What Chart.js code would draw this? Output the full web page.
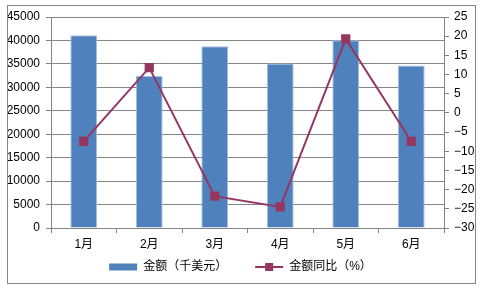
<!DOCTYPE html>
<html>
<head>
<meta charset="utf-8">
<script src="https://cdn.jsdelivr.net/npm/chart.js@4"></script>
<style>
    html, body { margin: 0; padding: 0; background: #fff; }
    #wrap { width: 481px; height: 288px; }
</style>
</head>
<body>
<div id="wrap"><canvas id="grafico"></canvas></div>
<script>
// dados
const meses = ["1月", "2月", "3月", "4月", "5月", "6月"];
const valores = [41100, 32400, 38750, 35100, 40050, 34650];
const variacao = [-7.4, 11.8, -21.7, -24.5, 19.3, -7.4];
const nomeBarra = "金额（千美元）";
const nomeLinha = "金额同比（%）";

const corBarra = "#4f81bd";
const corLinha = "#953660";
const cinza = "#868686";
const fonte = "'Liberation Sans', 'Noto Sans CJK SC', sans-serif";

Chart.defaults.font.family = fonte;
Chart.defaults.font.size = 12;
Chart.defaults.color = "#000";

// moldura em volta do gráfico e legenda da linha com marcador
const moldura = {
    id: "moldura",
    beforeDraw(chart) {
        const c = chart.ctx;
        c.save();
        c.fillStyle = "#fff";
        c.fillRect(0, 0, chart.width, chart.height);
        c.restore();
    },
    afterDraw(chart) {
        const c = chart.ctx;
        c.save();
        c.strokeStyle = cinza;
        c.lineWidth = 1;
        c.strokeRect(7.5, 5.5, 468, 278);

        const box = chart.legend.legendHitBoxes[1];
        if (box) {
            const w = chart.legend.options.labels.boxWidth;
            const y = Math.round(box.top + box.height / 2);
            c.strokeStyle = corLinha;
            c.lineWidth = 2;
            c.beginPath();
            c.moveTo(box.left, y);
            c.lineTo(box.left + w, y);
            c.stroke();
            c.fillStyle = corLinha;
            c.fillRect(box.left + w / 2 - 4, y - 4, 8, 8);
        }
        c.restore();
    }
};

new Chart(document.getElementById("grafico"), {
    type: "bar",
    data: {
        labels: meses,
        datasets: [{
            type: "bar",
            label: nomeBarra,
            data: valores,
            backgroundColor: corBarra,
            borderColor: "#a7bfdf",
            borderWidth: 1,
            barPercentage: 0.82,
            categoryPercentage: 0.5,
            yAxisID: "y",
            order: 1
        }, {
            type: "line",
            label: nomeLinha,
            data: variacao,
            borderColor: corLinha,
            backgroundColor: corLinha,
            borderWidth: 2,
            pointStyle: "rect",
            pointRadius: 6.5,
            pointBorderWidth: 0,
            tension: 0,
            yAxisID: "y1",
            order: 0
        }]
    },
    options: {
        responsive: true,
        maintainAspectRatio: false,
        animation: false,
        events: [],
        layout: { padding: { top: 17, bottom: 5, left: 0, right: 0 } },
        scales: {
            x: {
                offset: true,
                grid: { offset: true, drawOnChartArea: false, drawTicks: true, tickLength: 5, color: cinza },
                border: { color: cinza },
                ticks: { padding: 4 },
                afterFit: s => { s.height = 23; }
            },
            y: {
                position: "left",
                min: 0,
                max: 45000,
                ticks: { stepSize: 5000, padding: 6, callback: v => String(v) },
                grid: { color: cinza, tickLength: 5 },
                border: { color: cinza },
                afterFit: s => { s.width = 51; }
            },
            y1: {
                position: "right",
                min: -30,
                max: 25,
                ticks: {
                    stepSize: 5,
                    padding: 5,
                    callback: v => String(v).replace("-", "\u2212")
                },
                grid: { drawOnChartArea: false, color: cinza, tickLength: 5 },
                border: { color: cinza },
                afterFit: s => { s.width = 37; }
            }
        },
        plugins: {
            tooltip: { enabled: false },
            legend: {
                position: "bottom",
                labels: {
                    boxWidth: 28,
                    boxHeight: 7,
                    padding: 10,
                    generateLabels(chart) {
                        const itens = Chart.defaults.plugins.legend.labels.generateLabels(chart);
                        itens.forEach(it => {
                            if (it.datasetIndex === 0) {
                                it.text = nomeBarra + "\u3000\u3000";
                                it.strokeStyle = "rgba(0,0,0,0)";
                            } else {
                                it.fillStyle = "rgba(0,0,0,0)";
                                it.strokeStyle = "rgba(0,0,0,0)";
                            }
                        });
                        return itens.sort((a, b) => a.datasetIndex - b.datasetIndex);
                    }
                }
            }
        }
    },
    plugins: [moldura]
});
</script>
</body>
</html>
